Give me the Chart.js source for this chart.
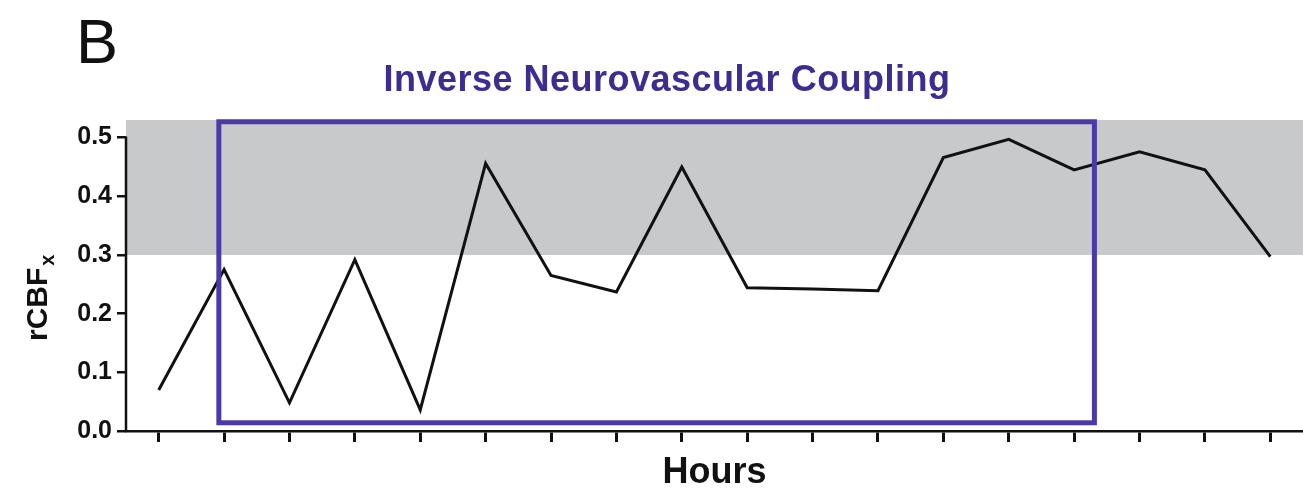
<!DOCTYPE html>
<html>
<head>
<meta charset="utf-8">
<script src="https://cdn.jsdelivr.net/npm/chart.js@4/dist/chart.umd.min.js"></script>
<style>
  html, body { margin: 0; padding: 0; background: #ffffff; }
  #c { display: block; }
</style>
</head>
<body>
<canvas id="c" width="1303" height="491"></canvas>
<script>
// Sampling times (one per hour) and the regional CBF index at each
const hourLabels = ['1', '2', '3', '4', '5', '6', '7', '8', '9', '10', '11', '12', '13', '14', '15', '16', '17', '18'];
const rcbfValues = [0.070, 0.275, 0.048, 0.292, 0.036, 0.456, 0.265, 0.237, 0.450,
                    0.244, 0.242, 0.239, 0.466, 0.497, 0.445, 0.476, 0.445, 0.297];
const yTickValues = [0.0, 0.1, 0.2, 0.3, 0.4, 0.5];

// Shaded normal range of rCBFx
const normalBand = [0.3, 0.53];
// Period of inverse coupling (hour index span, rCBFx span)
const couplingHours = [0.92, 14.31];
const couplingRange = [0.014, 0.527];

const INK = '#111111';
const FONT = '"Liberation Sans", Arial, Helvetica, sans-serif';

const decor = {
  id: 'decor',
  beforeDatasetsDraw(chart) {
    const { ctx, chartArea: a, scales: { y } } = chart;
    const top = y.getPixelForValue(normalBand[1]);
    const bottom = y.getPixelForValue(normalBand[0]);
    ctx.save();
    ctx.fillStyle = '#c8c9cb';
    ctx.fillRect(a.left, top, a.right - a.left, bottom - top);
    ctx.restore();
  },
  afterDatasetsDraw(chart) {
    const { ctx, scales: { x, y } } = chart;
    const l = x.getPixelForValue(couplingHours[0]);
    const r = x.getPixelForValue(couplingHours[1]);
    const t = y.getPixelForValue(couplingRange[1]);
    const b = y.getPixelForValue(couplingRange[0]);
    ctx.save();
    ctx.strokeStyle = '#4a3aa5';
    ctx.lineWidth = 5;
    ctx.strokeRect(l, t, r - l, b - t);
    ctx.restore();
  },
  afterDraw(chart) {
    const { ctx, chartArea: a, scales: { y } } = chart;
    ctx.save();
    // y axis line, running only over the ticked range
    ctx.strokeStyle = INK;
    ctx.lineWidth = 2.5;
    ctx.beginPath();
    ctx.moveTo(a.left, y.getPixelForValue(0) + 1);
    ctx.lineTo(a.left, y.getPixelForValue(yTickValues[yTickValues.length - 1]) - 1.2);
    ctx.stroke();

    // panel letter
    ctx.fillStyle = INK;
    ctx.textAlign = 'left';
    ctx.textBaseline = 'alphabetic';
    ctx.font = '63px ' + FONT;
    ctx.fillText('B', 76, 63);

    // chart title
    ctx.fillStyle = '#3c2d90';
    ctx.font = 'bold 36px ' + FONT;
    ctx.letterSpacing = '0.5px';
    ctx.textAlign = 'center';
    ctx.fillText('Inverse Neurovascular Coupling', 667, 91);
    ctx.letterSpacing = '0px';

    // y axis title with subscript
    ctx.fillStyle = INK;
    ctx.translate(47, 341);
    ctx.rotate(-Math.PI / 2);
    ctx.textAlign = 'left';
    ctx.font = 'bold 30px ' + FONT;
    ctx.fillText('rCBF', 0, 0);
    const w = ctx.measureText('rCBF').width;
    ctx.font = 'bold 20px ' + FONT;
    ctx.fillText('x', w + 2, 7);
    ctx.restore();
  }
};

new Chart(document.getElementById('c'), {
  type: 'line',
  data: {
    labels: hourLabels,
    datasets: [{
      data: rcbfValues,
      borderColor: INK,
      borderWidth: 3,
      pointRadius: 0,
      tension: 0,
      fill: false
    }]
  },
  options: {
    responsive: false,
    animation: false,
    devicePixelRatio: 1,
    layout: { padding: { top: 120, left: 0, right: 0, bottom: 0 } },
    plugins: { legend: { display: false }, tooltip: { enabled: false }, title: { display: false } },
    scales: {
      x: {
        type: 'category',
        offset: true,
        grid: { display: true, drawOnChartArea: false, drawTicks: true, tickLength: 11, color: INK, lineWidth: 3 },
        border: { display: true, color: INK, width: 2.5 },
        ticks: { callback: () => '', padding: 0 },
        title: {
          display: true,
          text: 'Hours',
          color: INK,
          font: { family: FONT, size: 36, weight: 'bold', lineHeight: 1 },
          padding: 0
        },
        afterFit(scale) { scale.height = 60; }
      },
      y: {
        min: 0,
        max: normalBand[1],
        grid: { display: true, drawOnChartArea: false, drawTicks: true, tickLength: 9, color: INK, lineWidth: 2.5 },
        border: { display: false },
        ticks: {
          color: INK,
          padding: 5,
          font: { family: FONT, size: 25, weight: 'bold' },
          callback: (v) => Number(v).toFixed(1)
        },
        afterBuildTicks(scale) { scale.ticks = yTickValues.map(v => ({ value: v })); },
        afterFit(scale) { scale.width = 126; }
      }
    }
  },
  plugins: [decor]
});
</script>
</body>
</html>
